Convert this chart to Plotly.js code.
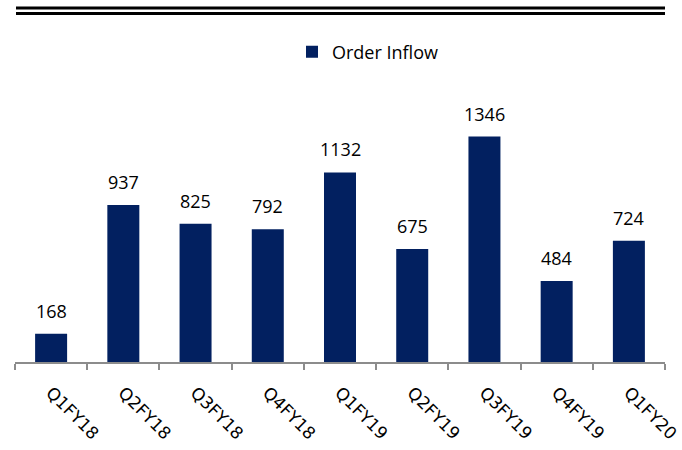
<!DOCTYPE html>
<html>
<head>
<meta charset="utf-8">
<script src="https://cdn.plot.ly/plotly-3.0.1.min.js"></script>
<style>html,body{margin:0;padding:0;background:#fff;}#chart{width:682px;height:450px;}</style>
</head>
<body>
<div id="chart"></div>
<script>
const categories = ["Q1FY18","Q2FY18","Q3FY18","Q4FY18","Q1FY19","Q2FY19","Q3FY19","Q4FY19","Q1FY20"];
const orderInflow = [168, 937, 825, 792, 1132, 675, 1346, 484, 724];
const seriesName = "Order Inflow";

const W = 682, H = 450;
const mL = 15, mR = 17, mT = 94, mB = 88;
const plotW = W - mL - mR, plotH = H - mT - mB;
const px2paperX = px => (px - mL) / plotW;
const px2paperY = py => (H - mB - py) / plotH;

const trace = {
  type: 'bar',
  x: categories,
  y: orderInflow,
  name: seriesName,
  marker: {color: '#022060'},
  hoverinfo: 'none'
};

const annotations = categories.map((c, i) => ({
  x: c, y: orderInflow[i], xref: 'x', yref: 'y',
  text: String(orderInflow[i]),
  showarrow: false, yanchor: 'bottom', yshift: 9,
  font: {family: 'Open Sans', size: 18, color: '#000'}
}));

const layout = {
  width: W, height: H,
  margin: {l: mL, r: mR, t: mT, b: mB},
  paper_bgcolor: '#fff', plot_bgcolor: '#fff',
  showlegend: true,
  legend: {
    orientation: 'h', x: px2paperX(368), y: px2paperY(52),
    xanchor: 'center', yanchor: 'middle',
    font: {family: 'Open Sans', size: 18, color: '#000'},
    bgcolor: 'rgba(0,0,0,0)'
  },
  bargap: 0.557,
  xaxis: {
    type: 'category',
    tickangle: 45,
    tickson: 'boundaries',
    ticks: 'outside', ticklen: 6, tickwidth: 2, tickcolor: '#8c8c8c',
    showline: true, linecolor: '#8c8c8c', linewidth: 2,
    showgrid: false, zeroline: false,
    ticklabelstandoff: 12,
    tickfont: {family: 'DejaVu Sans', size: 17, color: '#000'},
    fixedrange: true
  },
  yaxis: {
    range: [0, 1600],
    visible: false, showgrid: false, zeroline: false,
    fixedrange: true
  },
  annotations: annotations,
  shapes: [
    {type: 'line', xref: 'paper', yref: 'paper', x0: px2paperX(16), x1: px2paperX(665), y0: px2paperY(8), y1: px2paperY(8), line: {color: '#000', width: 3}},
    {type: 'line', xref: 'paper', yref: 'paper', x0: px2paperX(16), x1: px2paperX(665), y0: px2paperY(13.5), y1: px2paperY(13.5), line: {color: '#000', width: 3}}
  ]
};

Plotly.newPlot('chart', [trace], layout, {displayModeBar: false, staticPlot: true});
</script>
</body>
</html>
